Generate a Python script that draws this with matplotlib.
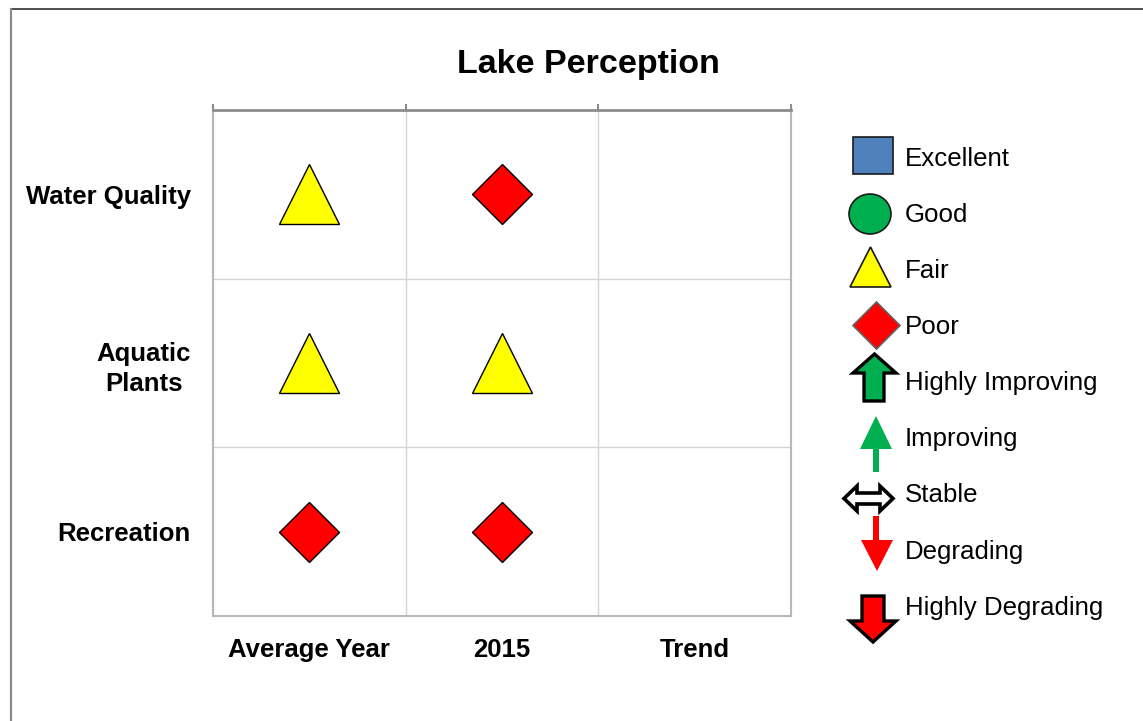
import matplotlib
matplotlib.use("Agg")
import matplotlib.pyplot as plt
from matplotlib.patches import Polygon, Rectangle, Ellipse
from matplotlib.lines import Line2D

plt.rcParams['font.family'] = ['Liberation Sans', 'DejaVu Sans']

# ---------------- data ----------------
rows = ["Water Quality", "Aquatic\nPlants", "Recreation"]
columns = ["Average Year", "2015", "Trend"]
average_year = ["Fair", "Fair", "Poor"]
year_2015 = ["Poor", "Fair", "Poor"]
trend = [None, None, None]
legend_labels = ["Excellent", "Good", "Fair", "Poor", "Highly Improving",
                 "Improving", "Stable", "Degrading", "Highly Degrading"]
title = "Lake Perception"

W, H = 1143, 721
fig = plt.figure(figsize=(W / 100, H / 100), dpi=100)

# figure frame lines
fig.add_artist(Line2D([11 / W, 1], [1 - 9 / H, 1 - 9 / H], transform=fig.transFigure,
                      color='#303030', lw=1.2))
fig.add_artist(Line2D([11 / W, 11 / W], [0, 1 - 9 / H], transform=fig.transFigure,
                      color='#8a8a8a', lw=1.6))

# ---------------- main grid ----------------
ax = fig.add_axes([213 / W, 1 - 616 / H, (791 - 213) / W, (616 - 110) / H])
ax.set_xlim(-0.5, len(columns) - 0.5)
ax.set_ylim(len(rows) - 0.5, -0.5)

styles = {
    "Excellent": dict(marker='s', color='#4F81BD', ms=30),
    "Good": dict(marker='o', color='#00B050', ms=30),
    "Fair": dict(marker='^', color='#FFFF00', ms=43.2),
    "Poor": dict(marker='D', color='#FF0000', ms=30.5),
}

for ci, col in enumerate([average_year, year_2015, trend]):
    for ri, status in enumerate(col):
        if status is None:
            continue
        st = styles[status]
        ax.plot([ci], [ri], linestyle='none', marker=st['marker'], ms=st['ms'],
                markerfacecolor=st['color'], markeredgecolor='black', markeredgewidth=1.0,
                zorder=3)

ax.set_xticks(range(len(columns)))
ax.set_xticklabels(columns, fontsize=18.5, fontweight='bold')
ax.set_yticks(range(len(rows)))
ax.set_yticklabels(rows, fontsize=18.5, fontweight='bold')
for lab in ax.get_yticklabels():
    lab.set_multialignment('center')
    lab.set_linespacing(1.32)
ax.tick_params(axis='x', which='major', length=0, pad=16)
ax.tick_params(axis='y', which='major', length=0, pad=16)

ax.set_xticks([i - 0.5 for i in range(len(columns) + 1)], minor=True)
ax.set_yticks([i - 0.5 for i in range(len(rows) + 1)], minor=True)
ax.tick_params(axis='x', which='minor', top=True, bottom=False, length=4.5,
               width=1.5, color='#8c8c8c', direction='out')
ax.tick_params(axis='y', which='minor', left=False, length=0)
ax.grid(which='minor', color='#d4d4d4', lw=1.0)
ax.set_axisbelow(True)

for side in ['left', 'bottom', 'right']:
    ax.spines[side].set_color('#b8b8b8')
    ax.spines[side].set_linewidth(1.5)
ax.spines['top'].set_color('#8c8c8c')
ax.spines['top'].set_linewidth(2.0)

# ---------------- title ----------------
fig.text(588.5 / W, 1 - 64 / H, title, fontsize=24.5, fontweight='bold',
         ha='center', va='center')

# ---------------- legend (symbols drawn in pixel space) ----------------
lax = fig.add_axes([0, 0, 1, 1])
lax.set_xlim(0, W)
lax.set_ylim(H, 0)
lax.axis('off')

green = '#00B050'
red = '#FF0000'

lax.add_patch(Rectangle((853, 137), 40, 37, facecolor='#4F81BD', edgecolor='#1a1a1a', lw=1.2))
lax.add_patch(Ellipse((870, 214), 42, 40, facecolor=green, edgecolor='#1a1a1a', lw=1.2))
lax.add_patch(Polygon([(850, 287), (891, 287), (870.5, 247)], closed=True,
                      facecolor='#FFFF00', edgecolor='#1a1a1a', lw=1.2))
lax.add_patch(Polygon([(876.5, 302), (900, 325.5), (876.5, 349), (853, 325.5)], closed=True,
                      facecolor=red, edgecolor='#606060', lw=1.2))
# Highly improving
lax.add_patch(Polygon([(874.5, 354), (896, 373), (884, 373), (884, 401), (864, 401),
                       (864, 373), (853, 373)], closed=True,
                      facecolor=green, edgecolor='black', lw=2.4, joinstyle='miter'))
# Improving
lax.add_patch(Polygon([(876, 416), (892, 449), (879, 449), (879, 472), (873, 472),
                       (873, 449), (860, 449)], closed=True,
                      facecolor=green, edgecolor='none'))
# Stable
lax.add_patch(Polygon([(844, 498.5), (857, 486), (857, 493), (880, 493), (880, 486),
                       (893, 498.5), (880, 511), (880, 504), (857, 504), (857, 511)],
                      closed=True, facecolor='white', edgecolor='black', lw=2.6,
                      joinstyle='miter'))
# Degrading
lax.add_patch(Polygon([(873, 516), (879, 516), (879, 540), (893, 540), (877, 571),
                       (861, 540), (873, 540)], closed=True,
                      facecolor=red, edgecolor='none'))
# Highly degrading
lax.add_patch(Polygon([(862, 596), (884, 596), (884, 621), (896, 621), (873, 642),
                       (850, 621), (862, 621)], closed=True,
                      facecolor=red, edgecolor='black', lw=2.4, joinstyle='miter'))

legend_y = [159, 215, 271, 327, 383, 439, 495, 552, 608]
for lbl, yy in zip(legend_labels, legend_y):
    lax.text(905, yy, lbl, fontsize=18.6, ha='left', va='center')

fig.savefig("out.png", dpi=100)
